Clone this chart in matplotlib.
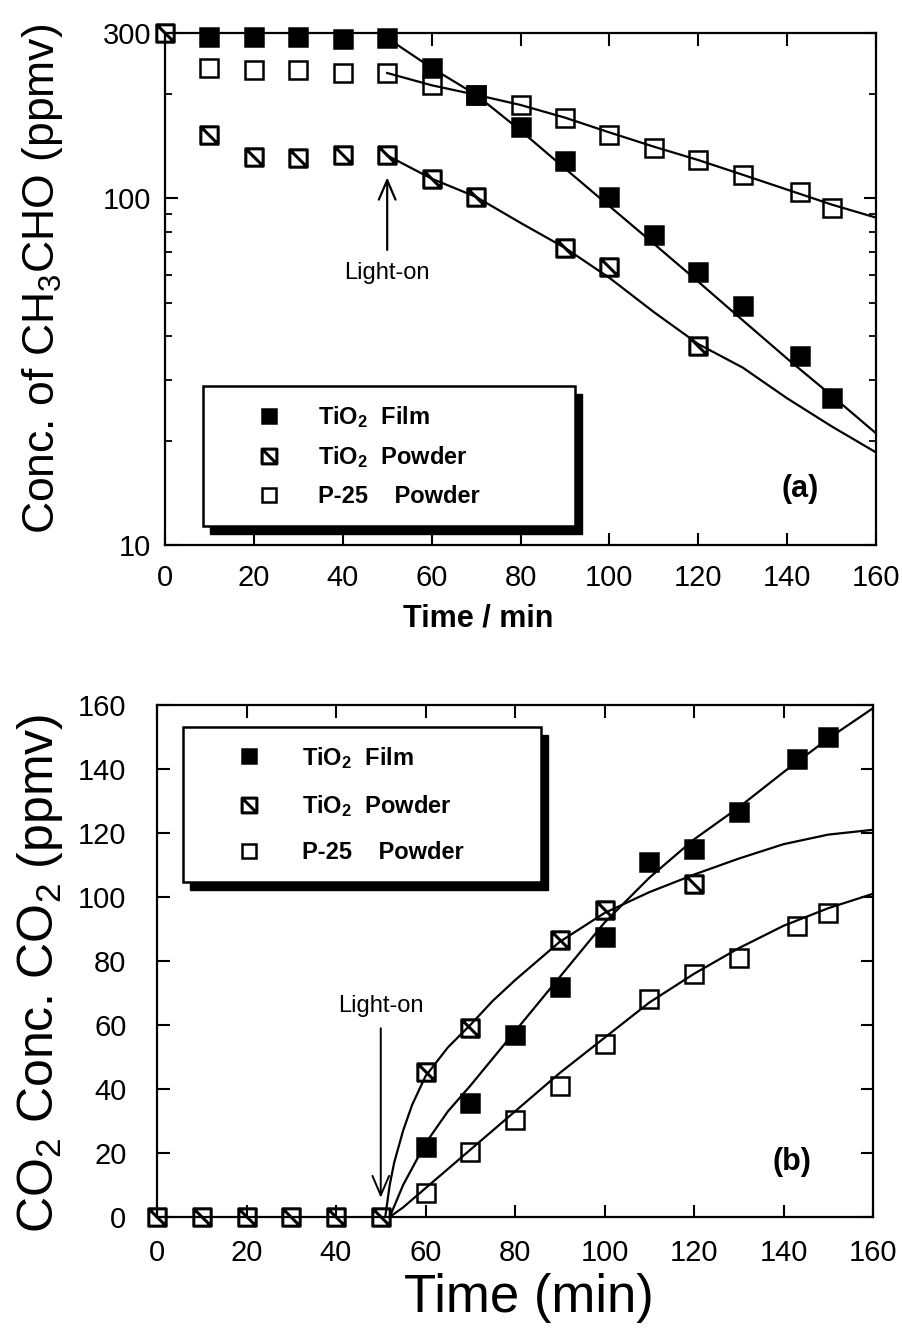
import matplotlib
matplotlib.use('Agg')
import matplotlib.pyplot as plt
from matplotlib.path import Path
from matplotlib.patches import Rectangle
from matplotlib.transforms import IdentityTransform
from matplotlib.ticker import FixedLocator, FixedFormatter, NullFormatter

plt.rcParams['font.family'] = ['Liberation Sans', 'DejaVu Sans']
plt.rcParams['mathtext.fontset'] = 'custom'
plt.rcParams['mathtext.rm'] = 'Liberation Sans'
plt.rcParams['mathtext.it'] = 'Liberation Sans:italic'
plt.rcParams['mathtext.bf'] = 'Liberation Sans:bold'
plt.rcParams['mathtext.default'] = 'regular'

# ---------------- Panel (a): CH3CHO concentration (log scale) ----------------
a_film_t = [10, 20, 30, 40, 50, 60, 70, 80, 90, 100, 110, 120, 130, 143, 150]
a_film_c = [292, 292, 292, 288, 290, 238, 199, 161, 128, 101, 78.5, 61.5, 49, 35, 26.6]
a_powder_t = [0, 10, 20, 30, 40, 50, 60, 70, 90, 100, 120]
a_powder_c = [300, 152, 132, 131, 133, 133, 114, 101, 72, 63.5, 37.4]
a_p25_t = [10, 20, 30, 40, 50, 60, 70, 80, 90, 100, 110, 120, 130, 143, 150]
a_p25_c = [238, 234, 234, 230, 230, 212, 199, 186, 171, 152, 140, 129, 117, 104, 94]
# fitted lines
a_fit_t = [50, 60, 70, 80, 90, 100, 110, 120, 130, 140, 150, 160]
a_film_fit = [290, 238, 199, 157, 122, 95, 74, 57.5, 44.5, 34.5, 27, 21]
a_powder_fit = [133, 114, 101, 85, 72, 59, 47, 38, 32.5, 26.5, 22, 18.5]
a_p25_fit = [230, 212, 199, 186, 171, 155, 141, 129, 117, 106, 96, 88]
a_xticks = [0, 20, 40, 60, 80, 100, 120, 140, 160]
a_yticks = [10, 100, 300]
a_yminor = [20, 30, 40, 50, 60, 70, 80, 90, 200]

# ---------------- Panel (b): CO2 concentration ----------------
b_film_t = [60, 70, 80, 90, 100, 110, 120, 130, 143, 150]
b_film_c = [22, 35.6, 57, 72, 87.5, 111, 115, 126.5, 143, 150]
b_powder_t = [0, 10, 20, 30, 40, 50, 60, 70, 90, 100, 120]
b_powder_c = [0, 0, 0, 0, 0, 0, 45.3, 59, 86.5, 96, 104]
b_p25_t = [60, 70, 80, 90, 100, 110, 120, 130, 143, 150]
b_p25_c = [7.5, 20.3, 30.3, 41, 54, 68, 76, 81, 91, 95]
# fitted curves
b_film_fit_t = [52, 55, 60, 65, 70, 80, 90, 100, 110, 120, 130, 140, 150, 160]
b_film_fit = [0, 10, 23, 33, 41, 58, 75, 92, 106, 118, 128, 139, 149.5, 159]
b_powder_fit_t = [51, 52, 53, 54, 55, 57, 60, 65, 70, 75, 80, 90, 100, 110, 120, 130, 140, 150, 160]
b_powder_fit = [0, 10, 17, 22, 27, 35, 44, 53, 60, 67.5, 74, 86, 95, 101.5, 107, 112, 116.5, 119.5, 121]
b_p25_fit_t = [52, 55, 60, 70, 80, 90, 100, 110, 120, 130, 140, 150, 160]
b_p25_fit = [0, 3, 9, 21, 33, 45, 56, 67, 76, 84, 91, 96.5, 101]
b_ticks = [0, 20, 40, 60, 80, 100, 120, 140, 160]

labels = [r'TiO$_\mathbf{2}$  Film', r'TiO$_\mathbf{2}$  Powder', 'P-25    Powder']

# custom marker: square with a diagonal stroke
diag_marker = Path([(-1, -1), (1, -1), (1, 1), (-1, 1), (-1, -1), (-1, 1), (1, -1)],
                   [Path.MOVETO, Path.LINETO, Path.LINETO, Path.LINETO, Path.CLOSEPOLY,
                    Path.MOVETO, Path.LINETO])

MS = 12.5
MEW = 1.8
LW = 1.6
film_kw = dict(marker='s', ms=MS, mfc='black', mec='black', mew=MEW, ls='none', clip_on=False, zorder=4)
powder_kw = dict(marker=diag_marker, ms=MS, mfc='none', mec='black', mew=MEW + 0.4, ls='none', clip_on=False, zorder=4)
p25_kw = dict(marker='s', ms=MS, mfc='none', mec='black', mew=MEW, ls='none', clip_on=False, zorder=4)

fig = plt.figure(figsize=(9.02, 13.42), dpi=100)
axa = fig.add_axes([165 / 902, 1 - 545 / 1342, 711 / 902, 512 / 1342])
axb = fig.add_axes([157 / 902, 1 - 1217 / 1342, 716 / 902, 512 / 1342])

# ---- panel (a)
axa.plot(a_fit_t, a_film_fit, color='black', lw=LW, zorder=3)
axa.plot(a_fit_t, a_powder_fit, color='black', lw=LW, zorder=3)
axa.plot(a_fit_t, a_p25_fit, color='black', lw=LW, zorder=3)
hf = axa.plot(a_film_t, a_film_c, **film_kw)[0]
hp = axa.plot(a_powder_t, a_powder_c, **powder_kw)[0]
h25 = axa.plot(a_p25_t, a_p25_c, **p25_kw)[0]
axa.set_yscale('log')
axa.set_xlim(0, 160)
axa.set_ylim(10, 300)
axa.xaxis.set_major_locator(FixedLocator(a_xticks))
axa.yaxis.set_major_locator(FixedLocator(a_yticks))
axa.yaxis.set_major_formatter(FixedFormatter([str(v) for v in a_yticks]))
axa.yaxis.set_minor_locator(FixedLocator(a_yminor))
axa.yaxis.set_minor_formatter(NullFormatter())
axa.tick_params(which='major', direction='in', top=True, right=True, length=9, width=1.5, labelsize=21)
axa.tick_params(axis='x', pad=14)
axa.tick_params(axis='y', pad=10)
axa.tick_params(which='minor', direction='in', top=True, right=True, length=5, width=1.3)
for s in axa.spines.values():
    s.set_linewidth(1.6)
axa.set_xlabel('Time / min', fontsize=22, fontweight='bold')
axa.xaxis.set_label_coords(0.44, -0.115)
axa.set_ylabel(r'Conc. of CH$_3$CHO (ppmv)', fontsize=32)
axa.yaxis.set_label_coords(-0.14, 0.52)
axa.text(0.893, 0.11, '(a)', transform=axa.transAxes, fontsize=22, fontweight='bold',
         ha='center', va='center')
axa.annotate('', xy=(50, 115), xytext=(50, 71),
             arrowprops=dict(arrowstyle='->,head_length=0.7,head_width=0.3', lw=1.6,
                             color='black', mutation_scale=20, shrinkA=0, shrinkB=0))
axa.text(50, 61, 'Light-on', fontsize=17, ha='center', va='center')
lega = axa.legend([hf, hp, h25], labels, loc='upper left', mode='expand',
                  bbox_to_anchor=(0.0535, 0.0, 0.523, 0.31), borderaxespad=0,
                  prop={'weight': 'bold', 'size': 17}, markerscale=0.85, fancybox=False,
                  framealpha=1, edgecolor='black', borderpad=0.75, labelspacing=0.62,
                  handlelength=4.1, handletextpad=0.0)
lega.get_frame().set_linewidth(1.8)

# ---- panel (b)
axb.plot(b_film_fit_t, b_film_fit, color='black', lw=LW, zorder=3)
axb.plot(b_powder_fit_t, b_powder_fit, color='black', lw=LW, zorder=3)
axb.plot(b_p25_fit_t, b_p25_fit, color='black', lw=LW, zorder=3)
gf = axb.plot(b_film_t, b_film_c, **film_kw)[0]
g25 = axb.plot(b_p25_t, b_p25_c, **p25_kw)[0]
gp = axb.plot(b_powder_t, b_powder_c, **powder_kw)[0]
axb.set_xlim(0, 160)
axb.set_ylim(0, 160)
axb.xaxis.set_major_locator(FixedLocator(b_ticks))
axb.yaxis.set_major_locator(FixedLocator(b_ticks))
axb.tick_params(which='major', direction='in', top=True, right=True, length=9, width=1.5, labelsize=21)
axb.tick_params(axis='x', pad=16)
axb.tick_params(axis='y', pad=22)
for s in axb.spines.values():
    s.set_linewidth(1.6)
axb.set_xlabel('Time (min)', fontsize=38)
axb.xaxis.set_label_coords(0.52, -0.11)
axb.set_ylabel(r'CO$_2$ Conc. CO$_2$ (ppmv)', fontsize=36)
axb.yaxis.set_label_coords(-0.128, 0.475)
axb.text(0.887, 0.107, '(b)', transform=axb.transAxes, fontsize=22, fontweight='bold',
         ha='center', va='center')
axb.annotate('', xy=(50, 6), xytext=(50, 59),
             arrowprops=dict(arrowstyle='->,head_length=0.7,head_width=0.3', lw=1.4,
                             color='black', mutation_scale=20, shrinkA=0, shrinkB=0))
axb.text(50, 66, 'Light-on', fontsize=17, ha='center', va='center')
legb = axb.legend([gf, gp, g25], labels, loc='upper left', mode='expand',
                  bbox_to_anchor=(0.0363, 0.0, 0.50, 0.957), borderaxespad=0,
                  prop={'weight': 'bold', 'size': 17}, markerscale=0.85, fancybox=False,
                  framealpha=1, edgecolor='black', borderpad=0.75, labelspacing=0.95,
                  handlelength=4.1, handletextpad=0.2)
legb.get_frame().set_linewidth(1.8)

# drop shadows behind the legend boxes
fig.canvas.draw()
renderer = fig.canvas.get_renderer()
for ax, leg in ((axa, lega), (axb, legb)):
    bb = leg.get_frame().get_window_extent(renderer)
    sh = Rectangle((bb.x0 + 7, bb.y0 - 8), bb.width, bb.height, transform=IdentityTransform(),
                   facecolor='black', edgecolor='black', zorder=4.5, clip_on=False)
    ax.add_patch(sh)

fig.savefig('out.png', dpi=100)
